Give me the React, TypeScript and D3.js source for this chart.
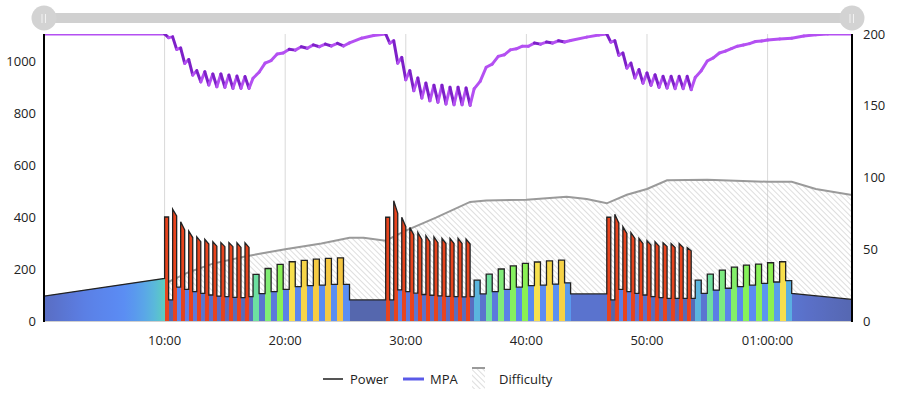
import { useMemo } from 'react'
import * as d3 from 'd3'

const WIDTH = 900
const HEIGHT = 396

// workout structure (seconds)
const warmupSec = 600
const sprintOnSec = 20
const sprintOffSec = 20
const buildOnSec = 30
const buildOffSec = 30
const restSec = 180
const cooldownSec = 300

// power (W)
const warmupWatts = [96, 164]
const set1Peak = [400, 430, 382, 346, 324, 314, 305, 302, 302, 301, 301]
const set1End = [400, 404, 350, 321, 305, 296, 288, 286, 286, 283, 283]
const set1Rec = [81, 130, 122, 113, 106, 100, 96, 94, 91, 90, 94]
const build1On = [179, 202, 218, 228, 233, 238, 241, 243]
const build1Off = [105, 113, 122, 132, 136, 138, 141, 141]
const set2Peak = [399, 463, 399, 360, 341, 328, 324, 318, 318, 318, 315]
const set2End = [399, 414, 363, 331, 314, 305, 301, 298, 298, 298, 296]
const set2Rec = [81, 120, 113, 107, 102, 99, 97, 95, 94, 93, 94]
const build2On = [157, 180, 200, 212, 222, 227, 231, 234]
const build2Off = [104, 113, 122, 130, 136, 138, 142, 147]
const set3Peak = [399, 411, 363, 340, 318, 309, 305, 301, 298, 298, 282]
const set3End = [399, 376, 337, 318, 298, 292, 288, 286, 283, 283, 270]
const set3Rec = [81, 122, 113, 106, 100, 94, 90, 87, 87, 87, 87]
const build3On = [157, 180, 196, 207, 215, 219, 224, 228]
const build3Off = [106, 119, 126, 132, 138, 145, 150, 155]
const restWatts = [81, 104]
const cooldownWatts = [106, 83]

// MPA (W)
const mpaSeconds = [
  0, 600, 620, 640, 660, 680, 700, 720, 740, 760, 780, 800, 820, 840, 860, 880, 900, 920, 940, 960, 980,
  1000, 1020, 1040, 1070, 1100, 1130, 1160, 1190, 1220, 1250, 1280, 1310, 1340, 1370, 1400, 1430, 1460,
  1490, 1520, 1580, 1640, 1700, 1720, 1740, 1760, 1780, 1800, 1820, 1840, 1860, 1880, 1900, 1920, 1940,
  1960, 1980, 2000, 2020, 2040, 2060, 2080, 2100, 2120, 2140, 2170, 2200, 2230, 2260, 2290, 2320, 2350,
  2380, 2410, 2440, 2470, 2500, 2530, 2560, 2590, 2620, 2700, 2760, 2800, 2820, 2840, 2860, 2880, 2900,
  2920, 2940, 2960, 2980, 3000, 3020, 3040, 3060, 3080, 3100, 3120, 3140, 3160, 3180, 3200, 3220, 3240,
  3270, 3300, 3330, 3360, 3390, 3420, 3450, 3480, 3510, 3540, 3570, 3600, 3660, 3720, 3780, 3840, 3900, 4020,
]
const mpaValues = [
  1104, 1104, 1090, 1093, 1045, 1050, 991, 1006, 946, 963, 920, 959, 908, 950, 901, 950, 899, 946, 895, 942, 895,
  940, 895, 934, 957, 992, 1002, 1027, 1031, 1045, 1042, 1055, 1049, 1062, 1055, 1065, 1058, 1068,
  1058, 1070, 1088, 1098, 1104, 1069, 1078, 992, 1014, 928, 963, 886, 935, 858, 915, 847, 907,
  842, 907, 835, 899, 832, 899, 832, 896, 830, 893, 922, 976, 988, 1018, 1024, 1043, 1047,
  1057, 1057, 1069, 1065, 1073, 1069, 1078, 1073, 1079, 1092, 1100, 1104, 1073, 1078, 1022, 1031, 973,
  992, 935, 967, 915, 954, 907, 947, 899, 941, 896, 941, 894, 941, 894, 941, 890, 937,
  963, 1000, 1012, 1031, 1038, 1048, 1057, 1062, 1067, 1075, 1077, 1081, 1085, 1088, 1096, 1101, 1104, 1104,
]

// Difficulty (right axis)
const difficultySeconds = [
  0, 300, 600, 720, 840, 1000, 1080, 1200, 1380, 1520, 1590, 1700, 1800, 1950, 2120, 2200, 2400, 2600,
  2700, 2800, 2900, 3000, 3100, 3300, 3600, 3720, 3840, 4020,
]
const difficultyValues = [
  5, 15, 26, 34, 40, 45, 47, 50, 54, 58, 58, 56, 63, 72, 83, 84, 84.5, 86.6,
  85, 82, 88, 92, 98, 98.5, 97, 97, 92, 87.8,
]

const timeTicks = [600, 1200, 1800, 2400, 3000, 3600]
const leftTicks = [0, 200, 400, 600, 800, 1000]
const rightTicks = [0, 50, 100, 150, 200]
const totalSeconds = 4020
const difficultyMax = 200

// power zone colours
const zoneWatts = [80, 100, 120, 140, 150, 158, 166, 180, 200, 215, 224.5, 225.5, 235, 248, 262, 275]
const zoneColors = [
  '#5566ad', '#5a70c8', '#5b80e6', '#5b8cf4', '#5a9eec', '#5ab8dc', '#5ed4b4', '#6ee0a0',
  '#80ec78', '#86f25a', '#8cf052', '#f8e450', '#f6d045', '#f5c040', '#ee7a30', '#e8441e',
]

const fmtTime = (s: number) => {
  const h = Math.floor(s / 3600)
  const m = Math.floor((s % 3600) / 60)
  const sec = s % 60
  const p = (n: number) => String(n).padStart(2, '0')
  return h > 0 ? `${p(h)}:${p(m)}:${p(sec)}` : `${p(m)}:${p(sec)}`
}

type Pt = [number, number]

function buildPower(): Pt[] {
  const pts: Pt[] = []
  let t = 0
  const seg = (dur: number, a: number, b: number) => {
    pts.push([t, a])
    t += dur
    pts.push([t, b])
  }
  seg(warmupSec, warmupWatts[0], warmupWatts[1])
  const sets = [
    [set1Peak, set1End, set1Rec, build1On, build1Off],
    [set2Peak, set2End, set2Rec, build2On, build2Off],
    [set3Peak, set3End, set3Rec, build3On, build3Off],
  ]
  sets.forEach(([peak, end, rec, on, off], i) => {
    peak.forEach((p, k) => {
      seg(sprintOnSec, p, end[k])
      seg(sprintOffSec, rec[k], rec[k])
    })
    on.forEach((p, k) => {
      seg(buildOnSec, p, p)
      seg(buildOffSec, off[k], off[k])
    })
    if (i < restWatts.length) seg(restSec, restWatts[i], restWatts[i])
  })
  seg(cooldownSec, cooldownWatts[0], cooldownWatts[1])
  return pts
}

export default function App() {
  const margin = { top: 34, right: 48, bottom: 75, left: 44 }
  const innerW = WIDTH - margin.left - margin.right
  const plotBottom = HEIGHT - margin.bottom

  const power = useMemo(buildPower, [])
  const mpa: Pt[] = mpaSeconds.map((s, i) => [s, mpaValues[i]])
  const difficulty: Pt[] = difficultySeconds.map((s, i) => [s, difficultyValues[i]])

  const x = d3.scaleLinear().domain([0, totalSeconds]).range([margin.left, WIDTH - margin.right])
  const yL = d3.scaleLinear().domain([0, d3.max(mpaValues) as number]).range([plotBottom, margin.top])
  const yR = d3.scaleLinear().domain([0, difficultyMax]).range([plotBottom, margin.top])
  const zone = d3.scaleLinear<string>().domain(zoneWatts).range(zoneColors).clamp(true)

  const powerArea = d3.area<Pt>().x(d => x(d[0])).y0(yL(0)).y1(d => yL(d[1]))(power) || ''
  const powerLine = d3.line<Pt>().x(d => x(d[0])).y(d => yL(d[1]))(power) || ''
  const diffArea = d3.area<Pt>().x(d => x(d[0])).y0(yR(0)).y1(d => yR(d[1]))(difficulty) || ''
  const diffLine = d3.line<Pt>().x(d => x(d[0])).y(d => yR(d[1]))(difficulty) || ''

  // horizontal gradient following the power zones
  const stops: { off: number; color: string }[] = []
  for (let i = 0; i < power.length - 1; i++) {
    const [t0, w0] = power[i]
    const [t1, w1] = power[i + 1]
    if (t1 === t0) continue
    const n = w0 !== w1 ? 12 : 1
    for (let j = 0; j <= n; j++) {
      const f = j / n
      stops.push({
        off: (t0 + (t1 - t0) * f) / totalSeconds,
        color: zone(w0 + (w1 - w0) * f),
      })
    }
  }

  const mpaLight = '#b450f2'
  const mpaDark = '#7d20c8'

  return (
    <div style={{ position: 'absolute', left: 0, top: 0 }}>
      <svg width={WIDTH} height={HEIGHT} style={{ display: 'block', fontFamily: '"Open Sans", sans-serif' }}>
        <defs>
          <linearGradient id="powerZones" gradientUnits="userSpaceOnUse" x1={x(0)} x2={x(totalSeconds)} y1={0} y2={0}>
            {stops.map((s, i) => (
              <stop key={i} offset={s.off} stopColor={s.color} />
            ))}
          </linearGradient>
          <pattern id="hatch" width={4} height={4} patternUnits="userSpaceOnUse" patternTransform="rotate(-45)">
            <line x1={0} y1={0} x2={0} y2={4} stroke="#bdbdbd" strokeWidth={1} />
          </pattern>
          <clipPath id="plotClip">
            <rect x={margin.left} y={margin.top} width={innerW} height={plotBottom - margin.top} />
          </clipPath>
        </defs>

        {/* range slider */}
        <rect x={margin.left} y={13} width={innerW} height={10} fill="#d0d0d0" />
        {[margin.left, WIDTH - margin.right].map(cx => (
          <g key={cx}>
            <circle cx={cx} cy={18} r={12.5} fill="#d3d3d3" />
            <line x1={cx - 2} x2={cx - 2} y1={14} y2={23} stroke="#f2f2f2" strokeWidth={1} />
            <line x1={cx + 1.5} x2={cx + 1.5} y1={14} y2={23} stroke="#f2f2f2" strokeWidth={1} />
          </g>
        ))}

        {/* grid */}
        {timeTicks.map(t => (
          <line key={t} x1={x(t)} x2={x(t)} y1={margin.top} y2={plotBottom} stroke="#d9d9d9" strokeWidth={1} />
        ))}

        <g clipPath="url(#plotClip)">
          <path d={diffArea} fill="url(#hatch)" />
          <path d={diffLine} fill="none" stroke="#9a9a9a" strokeWidth={2} />
          <path d={powerArea} fill="url(#powerZones)" />
          <path d={powerLine} fill="none" stroke="#222" strokeWidth={1.3} strokeLinejoin="miter" />
          {mpa.slice(1).map((p, i) => {
            const a = mpa[i]
            return (
              <line
                key={i}
                x1={x(a[0])}
                y1={yL(a[1])}
                x2={x(p[0])}
                y2={yL(p[1])}
                stroke={p[1] < a[1] ? mpaDark : mpaLight}
                strokeWidth={3}
                strokeLinecap="round"
              />
            )
          })}
        </g>

        {/* axes */}
        <line x1={margin.left} x2={WIDTH - margin.right} y1={plotBottom + 0.5} y2={plotBottom + 0.5} stroke="#cfcfcf" />
        <line x1={margin.left} x2={margin.left} y1={margin.top} y2={plotBottom + 1} stroke="#000" strokeWidth={2} />
        <line x1={WIDTH - margin.right} x2={WIDTH - margin.right} y1={margin.top} y2={plotBottom + 1} stroke="#000" strokeWidth={2} />

        {leftTicks.map(v => (
          <text key={v} x={36} y={yL(v)} dy="0.35em" textAnchor="end" fontSize={13} fill="#222">
            {v}
          </text>
        ))}
        {rightTicks.map(v => (
          <text key={v} x={863} y={yR(v)} dy="0.35em" textAnchor="start" fontSize={13} fill="#222">
            {v}
          </text>
        ))}
        {timeTicks.map(t => (
          <text key={t} x={x(t)} y={340} dy="0.35em" textAnchor="middle" fontSize={13} fill="#222">
            {fmtTime(t)}
          </text>
        ))}

        {/* legend */}
        <g fontSize={13} fill="#222">
          <line x1={323} x2={343} y1={379} y2={379} stroke="#555" strokeWidth={2} />
          <text x={350} y={379} dy="0.35em">Power</text>
          <line x1={403} x2={424} y1={379} y2={379} stroke="#5a5ae8" strokeWidth={3} />
          <text x={430} y={379} dy="0.35em">MPA</text>
          <rect x={472} y={368} width={13} height={21} fill="url(#hatch)" />
          <line x1={472} x2={485} y1={368} y2={368} stroke="#9a9a9a" strokeWidth={2} />
          <text x={499} y={379} dy="0.35em">Difficulty</text>
        </g>
      </svg>
    </div>
  )
}
